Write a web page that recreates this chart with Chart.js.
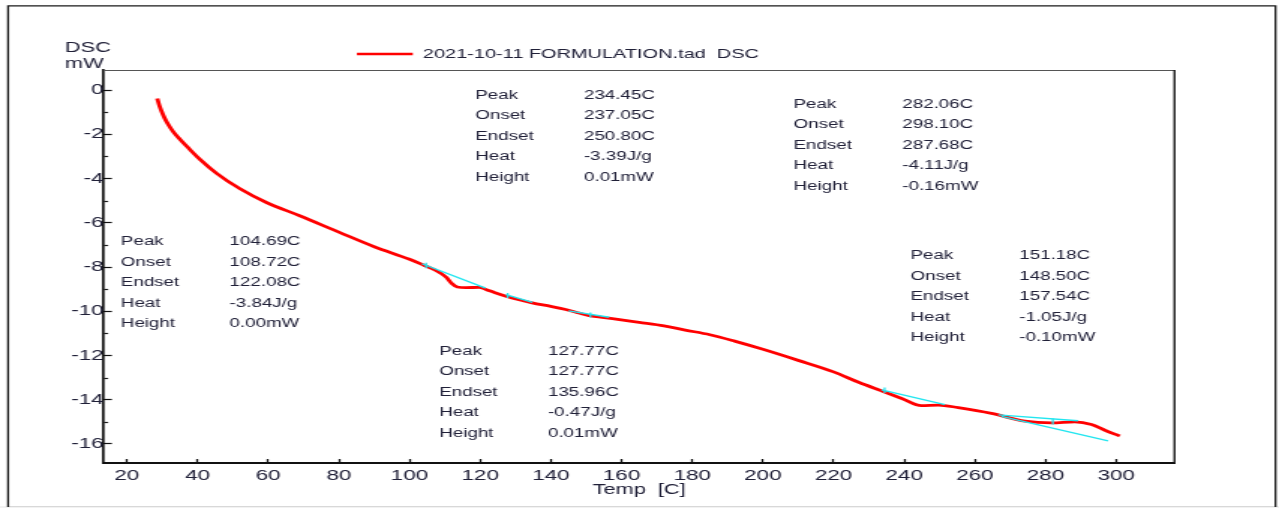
<!DOCTYPE html>
<html>
<head>
<meta charset="utf-8">
<script src="https://cdn.jsdelivr.net/npm/chart.js@4.4.1/dist/chart.umd.min.js"></script>
<style>
  html, body { margin: 0; padding: 0; background: #fff; overflow: hidden; }
  /* the instrument export is drawn on a narrow canvas and widened to the window */
  #wrap { position: absolute; left: 0; top: 0; width: 853px; height: 508px;
          transform: scaleX(1.49941); transform-origin: 0 0; }
</style>
</head>
<body>
<div id="wrap"><canvas id="dsc"></canvas></div>
<script>
// ---- measured DSC trace ----
const seriesLabel = '2021-10-11 FORMULATION.tad  DSC';
const tempC = [28.6, 29.1, 29.8, 30.7, 31.8, 33.2, 35.0, 37.0, 40.6, 45.3, 51.9, 59.5, 68.9,
               80.0, 90.0, 100.0, 104.2, 107.0, 110.3, 112.0, 113.5, 116.0, 119.7, 121.6, 124.0,
               127.3, 131.0, 134.7, 140.0, 144.2, 148.0, 150.8, 154.0, 157.4, 165.0, 172.0, 178.0,
               185.0, 192.0, 200.0, 210.0, 220.0, 227.1, 233.6, 239.3, 244.9, 249.7, 255.3, 264.7,
               274.2, 281.7, 288.3, 293.0, 296.8, 301.0];
const dscMW = [-0.38, -0.65, -0.95, -1.27, -1.58, -1.90, -2.22, -2.55, -3.12, -3.75, -4.45, -5.08, -5.68,
               -6.42, -7.08, -7.65, -7.93, -8.12, -8.45, -8.75, -8.90, -8.93, -8.92, -9.01, -9.15,
               -9.32, -9.48, -9.62, -9.78, -9.92, -10.08, -10.20, -10.26, -10.33, -10.50, -10.66, -10.85,
               -11.06, -11.35, -11.72, -12.22, -12.74, -13.21, -13.60, -13.94, -14.27, -14.24, -14.36, -14.62,
               -14.97, -15.05, -15.00, -15.12, -15.38, -15.64];

// ---- analysis baselines (onset / endset tangents) ----
const baseline1 = [[103.5, -7.85], [121.5, -8.95]];
const baseline2 = [[127.3, -9.25], [134.8, -9.60]];
const baseline3 = [[145.0, -9.98], [156.5, -10.27]];
const baseline4 = [[233.6, -13.55], [251.5, -14.22]];
const baseline5 = [[266.6, -14.68], [289.2, -14.95]];
const baseline6 = [[267.5, -14.75], [297.7, -15.86]];

// ---- evaluated events ----
const eventPeak    = [104.69, 127.77, 234.45, 282.06, 151.18];
const eventOnset   = [108.72, 127.77, 237.05, 298.10, 148.50];
const eventEndset  = [122.08, 135.96, 250.80, 287.68, 157.54];
const eventHeat    = [-3.84, -0.47, -3.39, -4.11, -1.05];
const eventHeight  = [0.00, 0.01, 0.01, -0.16, -0.10];
// peak marker extent (mW) on each event
const peakMarkTop    = [-7.80, -9.17, -13.45, -14.85, -10.05];
const peakMarkBottom = [-8.05, -9.40, -13.70, -15.12, -10.28];
// where each result table is written (°C, mW of its first row)
const tableAtT  = [18.3, 108.4, 118.6, 208.7, 241.8];
const tableAtMW = [-6.86, -11.82, -0.23, -0.64, -7.50];
const rowNames  = ['Peak', 'Onset', 'Endset', 'Heat', 'Height'];

// ---- axes ----
const xTicks = [20, 40, 60, 80, 100, 120, 140, 160, 180, 200, 220, 240, 260, 280, 300];
const yTicks = [0, -2, -4, -6, -8, -10, -12, -14, -16];
const yMinorTicks = [-1, -3, -5, -7, -9, -11, -13, -15];
const xTitle = 'Temp  [C]';
const yTitle = ['DSC', 'mW'];

const FONT = 'Liberation Sans';
const INK = '#202038';

function pairs(arrT, arrY) { return arrT.map((t, i) => ({ x: t, y: arrY[i] })); }
function segment(arr) { return arr.map(p => ({ x: p[0], y: p[1] })); }

const cyan = { borderColor: '#22e6f0', borderWidth: 1.3, pointRadius: 0, tension: 0, order: 0 };

const datasets = [
  { label: seriesLabel, data: pairs(tempC, dscMW), borderColor: '#ff0000', borderWidth: 2.8,
    pointRadius: 0, cubicInterpolationMode: 'monotone', order: 1 },
  Object.assign({ data: segment(baseline1) }, cyan),
  Object.assign({ data: segment(baseline2) }, cyan),
  Object.assign({ data: segment(baseline3) }, cyan),
  Object.assign({ data: segment(baseline4) }, cyan),
  Object.assign({ data: segment(baseline5) }, cyan),
  Object.assign({ data: segment(baseline6) }, cyan)
];
eventPeak.forEach((p, i) => {
  datasets.push(Object.assign({ data: [{ x: p, y: peakMarkTop[i] }, { x: p, y: peakMarkBottom[i] }] }, cyan));
});

const framePlugin = {
  id: 'frame',
  beforeDraw(chart) {
    const ctx = chart.ctx;
    ctx.save();
    ctx.fillStyle = '#ffffff';
    ctx.fillRect(0, 0, chart.width, chart.height);
    ctx.fillStyle = '#f2f2f2';
    ctx.fillRect(0, 506, chart.width, chart.height - 506);
    ctx.strokeStyle = '#d8d8d8';
    ctx.lineWidth = 1;
    ctx.beginPath(); ctx.moveTo(5, 506.5); ctx.lineTo(851, 506.5); ctx.stroke();
    ctx.strokeStyle = '#1a1a1a';
    ctx.lineWidth = 1.3;
    ctx.beginPath();
    ctx.moveTo(5.4, 507); ctx.lineTo(5.4, 5.8); ctx.lineTo(850.7, 5.8); ctx.lineTo(850.7, 507);
    ctx.stroke();
    ctx.restore();
  },
  afterDraw(chart) {
    const ctx = chart.ctx;
    const a = chart.chartArea;
    const xs = chart.scales.x, ys = chart.scales.y;
    ctx.save();
    // closing lines of the plot box
    ctx.strokeStyle = '#555555';
    ctx.lineWidth = 1.2;
    ctx.beginPath(); ctx.moveTo(a.left, a.top + 0.5); ctx.lineTo(a.right, a.top + 0.5); ctx.stroke();
    ctx.strokeStyle = '#1a1a1a';
    ctx.lineWidth = 1.4;
    ctx.beginPath(); ctx.moveTo(a.right, a.top); ctx.lineTo(a.right, a.bottom); ctx.stroke();
    // minor ticks on the mW axis
    ctx.strokeStyle = '#1a1a1a';
    ctx.lineWidth = 1.2;
    yMinorTicks.forEach(v => {
      const py = Math.round(ys.getPixelForValue(v)) + 0.5;
      ctx.beginPath(); ctx.moveTo(a.left, py); ctx.lineTo(a.left + 2.8, py); ctx.stroke();
    });
    // axis caption in the corner
    ctx.fillStyle = INK;
    ctx.font = '14.5px "' + FONT + '"';
    ctx.textBaseline = 'middle';
    ctx.textAlign = 'left';
    ctx.fillText(yTitle[0], 43.3, 48);
    ctx.fillText(yTitle[1], 43.3, 64);
    // legend entry of the trace
    const ds = chart.data.datasets[0];
    ctx.strokeStyle = ds.borderColor;
    ctx.lineWidth = 2.4;
    ctx.beginPath(); ctx.moveTo(238, 54); ctx.lineTo(275.3, 54); ctx.stroke();
    ctx.font = '13.3px "' + FONT + '"';
    ctx.fillText(ds.label, 282, 54.5);
    // result tables of the evaluated events
    ctx.font = '12.5px "' + FONT + '"';
    eventPeak.forEach((p, i) => {
      const x0 = xs.getPixelForValue(tableAtT[i]);
      const y0 = ys.getPixelForValue(tableAtMW[i]);
      const values = [
        eventPeak[i].toFixed(2) + 'C',
        eventOnset[i].toFixed(2) + 'C',
        eventEndset[i].toFixed(2) + 'C',
        eventHeat[i].toFixed(2) + 'J/g',
        eventHeight[i].toFixed(2) + 'mW'
      ];
      rowNames.forEach((name, r) => {
        const y = y0 + r * 20.5;
        ctx.fillText(name, x0, y);
        ctx.fillText(values[r], x0 + 72.5, y);
      });
    });
    ctx.restore();
  }
};

new Chart(document.getElementById('dsc'), {
  type: 'line',
  data: { datasets },
  options: {
    responsive: true,
    maintainAspectRatio: false,
    devicePixelRatio: 1,
    animation: false,
    events: [],
    layout: { padding: { top: 70, left: 29.3, right: 69.7, bottom: 0 } },
    plugins: { legend: { display: false }, tooltip: { enabled: false } },
    scales: {
      x: {
        type: 'linear', min: 13.5, max: 316.5,
        afterBuildTicks: s => { s.ticks = xTicks.map(v => ({ value: v })); },
        afterFit: s => { s.height = 45; },
        border: { display: true, color: '#111111', width: 2 },
        grid: { display: true, drawOnChartArea: false, drawTicks: true, tickLength: -4,
                tickColor: '#111111', tickWidth: 1.3 },
        ticks: { color: INK, font: { family: FONT, size: 15 }, padding: 7.5, maxRotation: 0, autoSkip: false },
        title: { display: true, text: xTitle, color: INK, font: { family: FONT, size: 14.5 },
                 padding: { top: 0, bottom: 9 } }
      },
      y: {
        type: 'linear', min: -16.86, max: 0.91,
        afterBuildTicks: s => { s.ticks = yTicks.map(v => ({ value: v })); },
        afterFit: s => { s.width = 40; },
        border: { display: true, color: '#111111', width: 1.7 },
        grid: { display: true, drawOnChartArea: false, drawTicks: true, tickLength: -5.3,
                tickColor: '#111111', tickWidth: 1.2 },
        ticks: { color: INK, font: { family: FONT, size: 15 }, padding: 5.5, autoSkip: false }
      }
    }
  },
  plugins: [framePlugin]
});
</script>
</body>
</html>
